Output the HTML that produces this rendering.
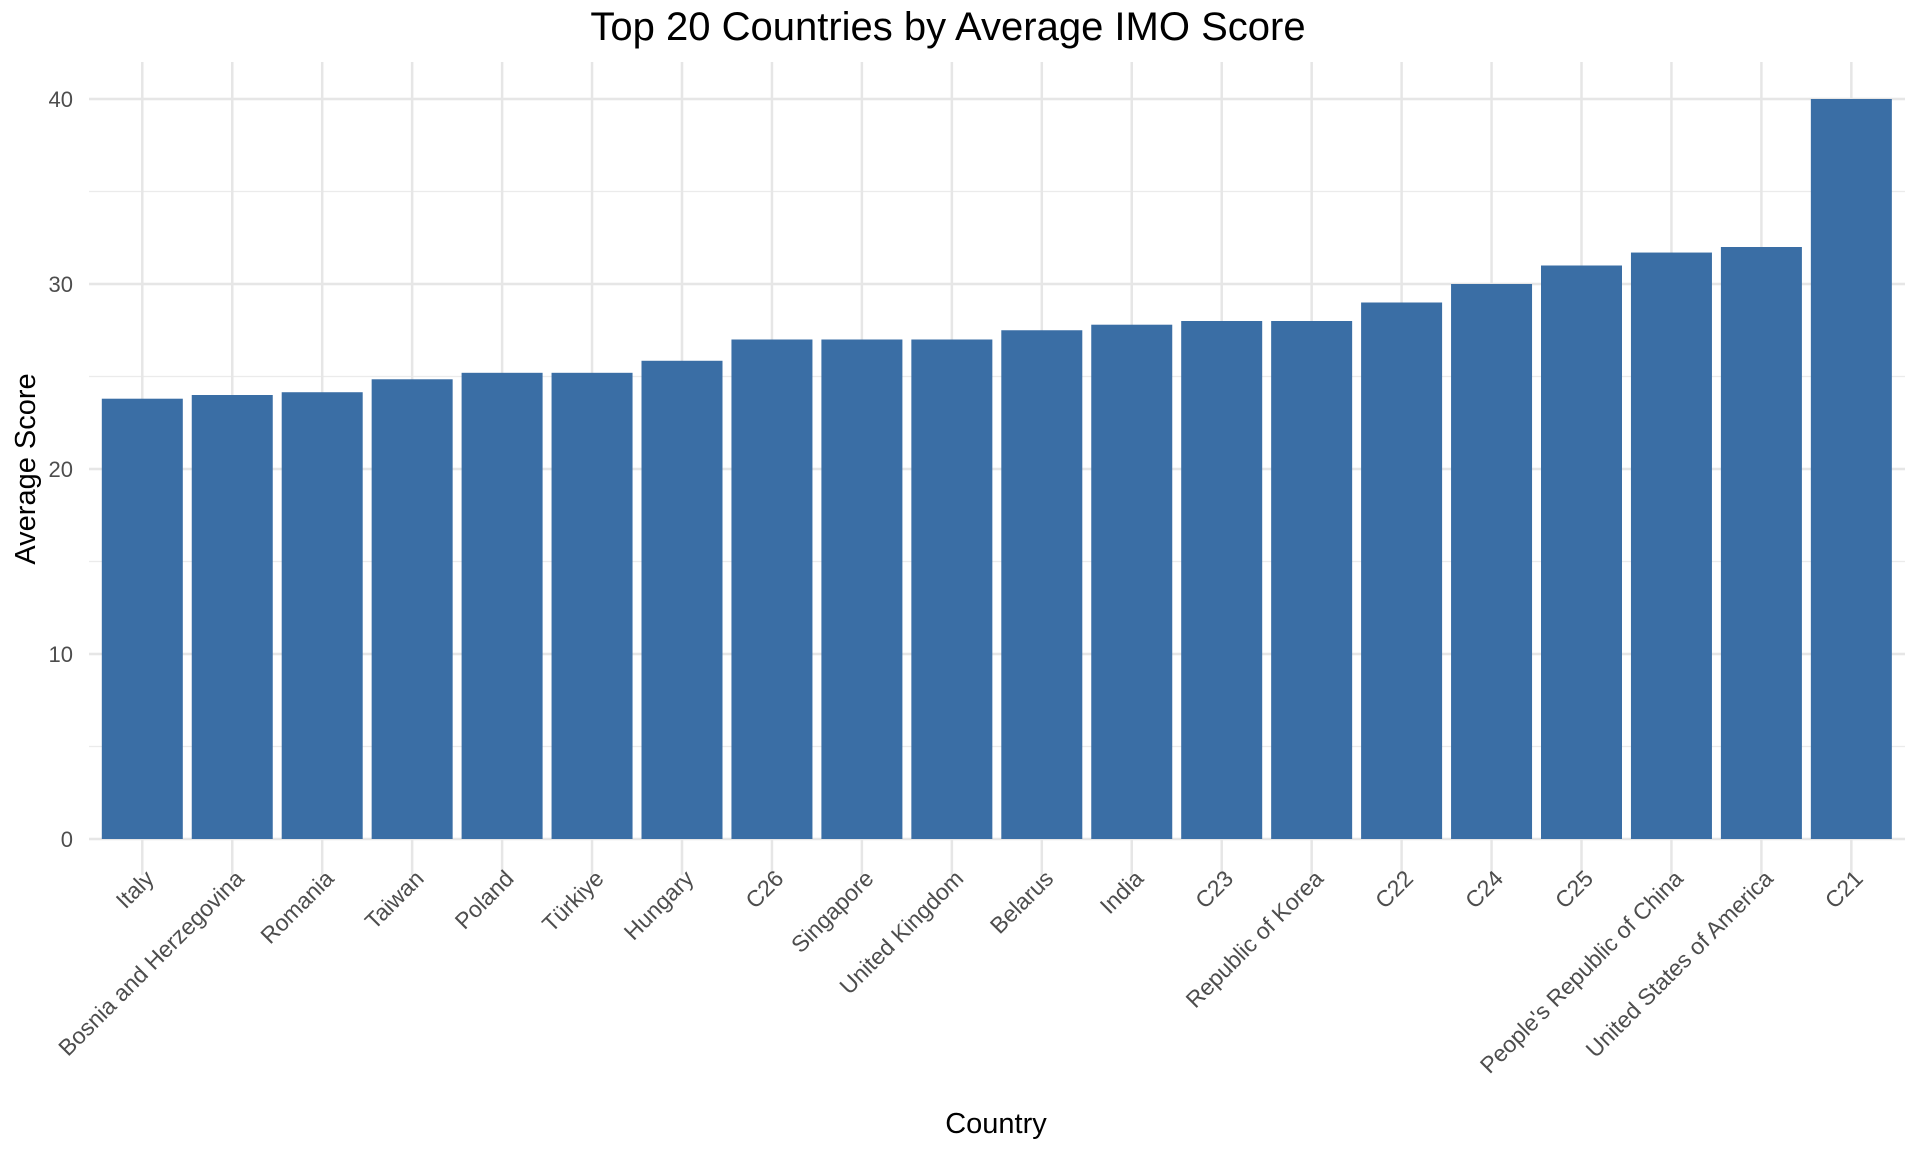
<!DOCTYPE html>
<html><head><meta charset="utf-8"><style>
html,body{margin:0;padding:0;background:#fff;}
svg{display:block;font-family:"Liberation Sans",Arial,sans-serif;}
</style></head><body>
<svg id="chart" width="1920" height="1152" viewBox="0 0 1920 1152">
<text x="948" y="40" text-anchor="middle" font-size="40" fill="#000">Top 20 Countries by Average IMO Score</text>
<g id="grid"></g>
<g id="bars"></g>
<g id="yticks"></g>
<g id="xticks"></g>
<text x="996" y="1133" text-anchor="middle" font-size="29" fill="#000">Country</text>
<text transform="translate(35,469) rotate(-90)" text-anchor="middle" font-size="29" fill="#000">Average Score</text>
</svg>
<script>
const categories = ["Italy","Bosnia and Herzegovina","Romania","Taiwan","Poland","Türkiye","Hungary","C26","Singapore","United Kingdom","Belarus","India","C23","Republic of Korea","C22","C24","C25","People's Republic of China","United States of America","C21"];
const values = [23.8,24,24.15,24.85,25.2,25.2,25.85,27,27,27,27.5,27.8,28,28,29,30,31,31.7,32,40];
const yTicks = [0,10,20,30,40];
const yMinor = [5,15,25,35];

const NS="http://www.w3.org/2000/svg";
const plotL=89, plotR=1905, gridTop=62, gridBot=875;
const y0=839, yPerUnit=(839-99)/40;
const x0=142.3, step=89.95, barW=81;
function yScale(v){return y0 - v*yPerUnit;}
function xScale(i){return x0 + i*step;}
function mk(tag,attrs,parent){const e=document.createElementNS(NS,tag);for(const k in attrs)e.setAttribute(k,attrs[k]);parent.appendChild(e);return e;}

const grid=document.getElementById('grid');
yMinor.forEach(v=>{
  const l=mk('line',{x1:plotL,x2:plotR,y1:yScale(v),y2:yScale(v),stroke:'#ebebeb','stroke-width':1.3},grid);
  
  
});
yTicks.forEach(v=>{
  const l=mk('line',{x1:plotL,x2:plotR,y1:yScale(v),y2:yScale(v),stroke:'#e6e6e6','stroke-width':2.5},grid);
  
  
});
categories.forEach((c,i)=>{
  const l=mk('line',{x1:xScale(i),x2:xScale(i),y1:gridTop,y2:gridBot,stroke:'#e6e6e6','stroke-width':2.5},grid);
  
  
});
const bars=document.getElementById('bars');
values.forEach((v,i)=>{
  const r=mk('rect',{x:xScale(i)-barW/2,y:yScale(v),width:barW,height:y0-yScale(v),fill:'#3a6ea5'},bars);
  
  
});
const yt=document.getElementById('yticks');
yTicks.forEach(v=>{
  const t=mk('text',{x:73,y:yScale(v)+8,'text-anchor':'end','font-size':22,fill:'#4d4d4d'},yt);
  t.textContent=v;
  
  
});
const xt=document.getElementById('xticks');
categories.forEach((c,i)=>{
  const x=xScale(i)+13, y=880;
  const t=mk('text',{x:x,y:y,'text-anchor':'end','font-size':23,fill:'#4d4d4d',transform:`rotate(-45 ${x} ${y})`},xt);
  t.textContent=c;
  
  
});
</script>
</body></html>
